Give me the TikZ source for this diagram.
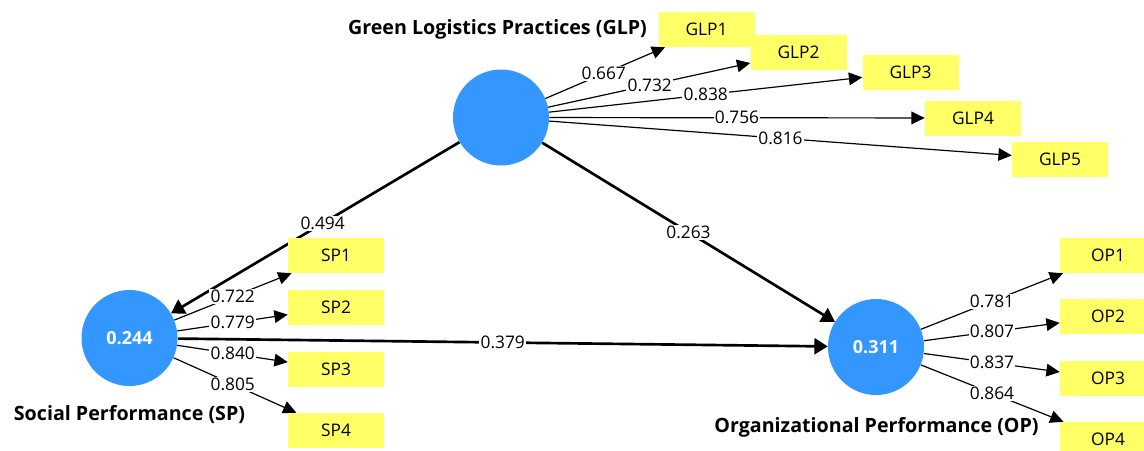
\documentclass[tikz,border=0pt]{standalone}
\usepackage{fontspec}
\setmainfont{Open Sans}
\usetikzlibrary{arrows.meta,calc}
\definecolor{lvblue}{RGB}{51,151,255}
\definecolor{mvyellow}{RGB}{255,255,102}
\pgfdeclarelayer{edges}
\pgfsetlayers{edges,main}

\begin{document}
\begin{tikzpicture}[x=0.75pt,y=0.75pt,yscale=-1,xscale=1,
  latent/.style={circle,fill=lvblue,minimum size=72pt,inner sep=0pt,text=white,font=\bfseries\fontsize{13.5}{15}\selectfont},
  item/.style={rectangle,fill=mvyellow,minimum width=72pt,minimum height=26.25pt,inner sep=0pt,font=\fontsize{13}{15}\selectfont},
  title/.style={font=\bfseries\fontsize{14.75}{17}\selectfont,inner sep=0pt},
  loading/.style={draw=black,line width=0.9pt,-{Triangle[length=10pt,width=9.5pt]}},
  path coef/.style={draw=black,line width=2pt,-{Triangle[length=10pt,width=12pt]}},
  lbl/.style={fill=white,inner sep=1pt,font=\fontsize{13}{15}\selectfont}]
	\useasboundingbox (0,0) rectangle (1144,450);
	\clip (0,0) rectangle (1144,450);
	% latent variables
	\node[latent] (glp) at (501,117.5) {};
	\node[latent] (sp) at (129.5,338) {0.244};
	\node[latent] (op) at (876,347) {0.311};
	\node[title] (glptitle) at (497.5,29) {Green Logistics Practices (GLP)};
	\node[title] (sptitle) at (129.5,415) {Social Performance (SP)};
	\node[title] (optitle) at (876.5,427) {Organizational Performance (OP)};
	% indicators
	\node[item] (glp1) at (706.5,29.5) {GLP1};
	\node[item] (glp2) at (798.5,52.5) {GLP2};
	\node[item] (glp3) at (910.5,72) {GLP3};
	\node[item] (glp4) at (973,118) {GLP4};
	\node[item] (glp5) at (1060,159) {GLP5};
	\node[item] (sp1) at (336,255.5) {SP1};
	\node[item] (sp2) at (336,307.5) {SP2};
	\node[item] (sp3) at (336,369.5) {SP3};
	\node[item] (sp4) at (336,430.5) {SP4};
	\node[item] (op1) at (1108,255.5) {OP1};
	\node[item] (op2) at (1108,316.5) {OP2};
	\node[item] (op3) at (1108,378.5) {OP3};
	\node[item] (op4) at (1108,439.5) {OP4};
	% outer loadings
	\begin{pgfonlayer}{edges}
	\foreach \i in {1,...,5} \draw[loading] (glp) -- (glp\i);
	\foreach \i in {1,...,4} \draw[loading] (sp) -- (sp\i);
	\foreach \i in {1,...,4} \draw[loading] (op) -- (op\i);
	% inner model
	\draw[path coef] (glp) -- (sp);
	\draw[path coef] (glp) -- (op);
	\draw[path coef] (sp) -- (op);
	\end{pgfonlayer}
	\foreach \i/\v in {1/0.667,2/0.732,3/0.838,4/0.756,5/0.816}
		\node[lbl] at ($(glp)!.5!(glp\i)$) {\v};
	\foreach \i/\v in {1/0.722,2/0.779,3/0.840,4/0.805}
		\node[lbl] at ($(sp)!.5!(sp\i)$) {\v};
	\foreach \i/\v in {1/0.781,2/0.807,3/0.837,4/0.864}
		\node[lbl] at ($(op)!.5!(op\i)$) {\v};
	\node[lbl] at ($(glp)!.48!(sp)$) {0.494};
	\node[lbl] at ($(glp)!.5!(op)$) {0.263};
	\node[lbl] at ($(sp)!.5!(op)$) {0.379};
\end{tikzpicture}
\end{document}
